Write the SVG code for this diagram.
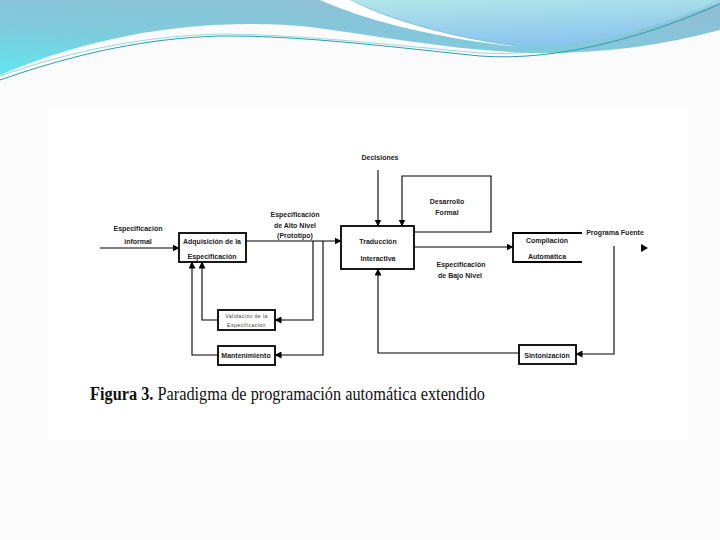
<svg xmlns="http://www.w3.org/2000/svg" width="720" height="540" viewBox="0 0 720 540">
<style>
.box{fill:#fff;stroke:#000;stroke-width:1.8}
.ln{fill:none;stroke:#000;stroke-width:1.1}
.t{font-family:"Liberation Sans",Arial,sans-serif;font-size:7px;font-weight:bold;fill:#222;text-anchor:middle}
.ts{font-family:"Liberation Sans",Arial,sans-serif;font-size:5.2px;fill:#444;text-anchor:middle;letter-spacing:0.4px}
.cap{font-family:"Liberation Serif","Times New Roman",serif;font-size:18px;fill:#111}
</style>
<defs>
<marker id="ah" markerWidth="7" markerHeight="7" refX="6.5" refY="3.5" orient="auto" markerUnits="userSpaceOnUse">
<path d="M0,0 L7,3.5 L0,7 z" fill="#000"/>
</marker>
<linearGradient id="gL" x1="0" y1="1" x2="0.6" y2="0">
<stop offset="0" stop-color="#5fe6ee"/>
<stop offset="0.5" stop-color="#7fcbdc"/>
<stop offset="1" stop-color="#8fbfd6"/>
</linearGradient>
<linearGradient id="gR" x1="0" y1="0" x2="0.3" y2="1">
<stop offset="0" stop-color="#b2e6ea"/>
<stop offset="1" stop-color="#8cc6ee"/>
</linearGradient>
</defs>
<rect x="0" y="0" width="720" height="540" fill="#fbfbfb"/>
<rect x="48" y="105" width="640" height="335" fill="#fff"/>
<g id="header">
<path d="M0,0 H720 V30 C660,46 600,54 530,53 C450,50 380,36 310,27 C220,18 110,28 0,75 Z" fill="url(#gL)"/>
<path d="M320,0 C360,18 430,38 520,47 C440,36 385,18 350,0 Z" fill="#fff"/>
<path d="M350,0 C390,18 450,38 525,45 C600,48 670,22 720,2 V0 Z" fill="url(#gR)"/>
<path d="M0,80 C80,52 150,38 220,36 C300,35 400,48 480,56 C560,62 650,35 720,4" fill="none" stroke="#2a9fb0" stroke-width="1"/>
<path d="M0,76 C80,48 150,36 220,34 C300,34 400,46 480,53 C560,58 650,30 720,0" fill="none" stroke="#7fd0d8" stroke-width="0.8"/>
</g>
<g id="connectors">
<line class="ln" x1="100" y1="248" x2="179" y2="248" marker-end="url(#ah)"/>
<line class="ln" x1="246" y1="241" x2="341" y2="241" marker-end="url(#ah)"/>
<line class="ln" x1="378" y1="170" x2="378" y2="226" stroke-width="2" marker-end="url(#ah)"/>
<polyline class="ln" points="414,232 491,232 491,176 402,176 402,226" marker-end="url(#ah)"/>
<line class="ln" x1="414" y1="247" x2="513" y2="247" marker-end="url(#ah)"/>
<path d="M641,244 L648,248 L641,252 z" fill="#000"/>
<polyline class="ln" points="614,246 614,354 576,354" marker-end="url(#ah)"/>
<polyline class="ln" points="519,353 378,353 378,269" marker-end="url(#ah)"/>
<polyline class="ln" points="313,241 313,320 275,320" marker-end="url(#ah)"/>
<polyline class="ln" points="218,320 202,320 202,262" marker-end="url(#ah)"/>
<polyline class="ln" points="323,241 323,355 275,355" marker-end="url(#ah)"/>
<polyline class="ln" points="218,355 192,355 192,262" marker-end="url(#ah)"/>
</g>
<g id="labels">
<text class="t" x="138" y="231">Especificación</text>
<text class="t" x="138" y="244">informal</text>
<text class="t" x="295" y="217">Especificación</text>
<text class="t" x="295" y="228">de Alto Nivel</text>
<text class="t" x="295" y="238">(Prototipo)</text>
<text class="t" x="380" y="160">Decisiones</text>
<text class="t" x="461" y="267">Especificación</text>
<text class="t" x="460" y="278">de Bajo Nivel</text>
<text class="t" x="615" y="235">Programa  Fuente</text>
</g>
<g id="adquisicion">
<rect class="box" x="179" y="233" width="67" height="29"/>
<text class="t" x="212" y="244">Adquisición  de  la</text>
<text class="t" x="212" y="259">Especificación</text>
</g>
<g id="traduccion">
<rect class="box" x="341" y="226" width="73" height="43"/>
<text class="t" x="378" y="244">Traducción</text>
<text class="t" x="378" y="261">Interactiva</text>
</g>
<g id="desarrollo">
<text class="t" x="447" y="204">Desarrollo</text>
<text class="t" x="447" y="215">Formal</text>
</g>
<g id="compilacion">
<path d="M582,233 H513 V262 H582" fill="none" stroke="#000" stroke-width="1.8"/>
<text class="t" x="547" y="243">Compilación</text>
<text class="t" x="547" y="259">Automática</text>
</g>
<g id="validacion">
<rect class="box" x="218" y="310" width="57" height="20" stroke-width="1.4"/>
<text class="ts" x="246.5" y="318">Validación de la</text>
<text class="ts" x="246.5" y="327">Especificación</text>
</g>
<g id="mantenimiento">
<rect class="box" x="218" y="346" width="57" height="19" stroke-width="1.4"/>
<text class="t" x="246" y="358">Mantenimiento</text>
</g>
<g id="sintonizacion">
<rect class="box" x="519" y="345" width="57" height="19" stroke-width="1.4"/>
<text class="t" x="547" y="358">Sintonización</text>
</g>
<text class="cap" x="90" y="400" textLength="395" lengthAdjust="spacingAndGlyphs"><tspan font-weight="bold">Figura 3.</tspan> Paradigma de programación automática extendido</text>
</svg>
